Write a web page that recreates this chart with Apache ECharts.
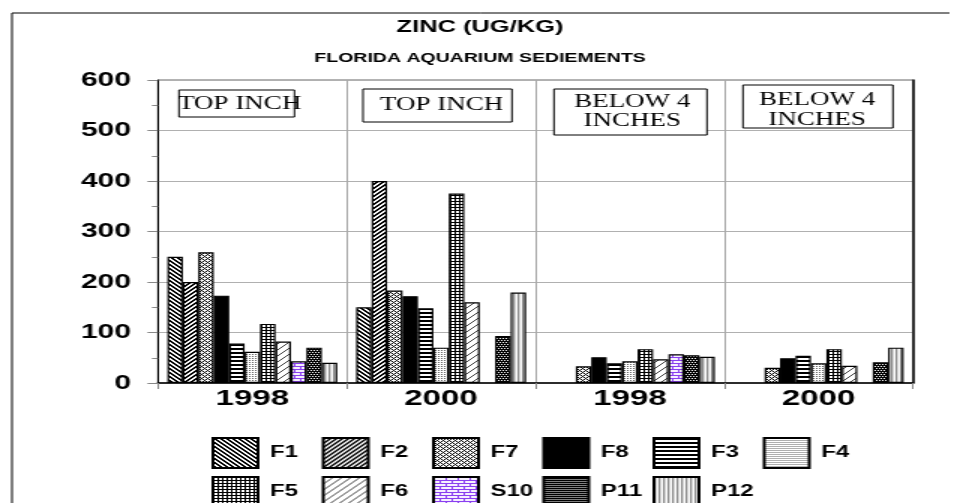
<!DOCTYPE html>
<html>
<head>
<meta charset="utf-8">
<title>Zinc - Florida Aquarium Sediments</title>
<script src="https://cdn.jsdelivr.net/npm/echarts@6/dist/echarts.min.js"></script>
<style>
html, body { margin: 0; padding: 0; background: #fff; overflow: hidden; }
/* the original picture is stretched sideways, so the chart is drawn narrow and widened */
#main { width: 640px; height: 503px; transform: scaleX(1.5); transform-origin: 0 0; }
</style>
</head>
<body>
<div id="main"></div>
<script>
// data
const categories = ['1998', '2000', '1998', '2000'];
const seriesNames = ['F1', 'F2', 'F7', 'F8', 'F3', 'F4', 'F5', 'F6', 'S10', 'P11', 'P12'];
const f1  = [250, 150, null, null];
const f2  = [200, 400, null, null];
const f7  = [259, 183, 33, 30];
const f8  = [173, 172, 51, 49];
const f3  = [78, 148, 39, 54];
const f4  = [62, 70, 43, 39];
const f5  = [117, 375, 67, 67];
const f6  = [82, 160, 47, 34];
const s10 = [43, null, 57, null];
const p11 = [70, 93, 55, 41];
const p12 = [40, 179, 52, 70];
const seriesValues = [f1, f2, f7, f8, f3, f4, f5, f6, s10, p11, p12];
const yTicks = { min: 0, max: 600, step: 100 };
const boxLabels = ['TOP INCH', 'TOP INCH', 'BELOW 4\nINCHES', 'BELOW 4\nINCHES'];

const SANS = 'Liberation Sans';
const SERIF = 'Liberation Serif';

// small bitmap fills, one per series
const hex = c => [parseInt(c.substr(1, 2), 16), parseInt(c.substr(3, 2), 16), parseInt(c.substr(5, 2), 16)];
function pattern(w, h, fn) {
    const c = document.createElement('canvas');
    c.width = w; c.height = h;
    const ctx = c.getContext('2d');
    const img = ctx.createImageData(w, h);
    for (let y = 0; y < h; y++) {
        for (let x = 0; x < w; x++) {
            const rgb = hex(fn(x, y));
            const k = (y * w + x) * 4;
            img.data[k] = rgb[0]; img.data[k + 1] = rgb[1]; img.data[k + 2] = rgb[2]; img.data[k + 3] = 255;
        }
    }
    ctx.putImageData(img, 0, 0);
    return { image: c, repeat: 'repeat' };
}
const B = '#000000', W = '#ffffff';
const fills = {
    F1: pattern(4, 4, (x, y) => ((x - y + 8) % 4 < 2 ? B : W)),
    F2: pattern(4, 4, (x, y) => ((x + y) % 4 < 2 ? B : W)),
    F7: pattern(4, 4, (x, y) => ((x + y) % 4 === 0 || (x - y + 8) % 4 === 0 ? B : W)),
    F8: '#000',
    F3: pattern(1, 4, (x, y) => (y % 4 < 2 ? B : W)),
    F4: pattern(2, 2, (x, y) => (x === 0 && y === 0 ? '#606060' : W)),
    F5: pattern(3, 3, (x, y) => (x === 0 || y === 0 ? B : W)),
    F6: pattern(6, 6, (x, y) => ((x + y) % 6 === 0 ? '#404040' : W)),
    S10: pattern(8, 6, (x, y) => (y % 3 === 0 || x === (Math.floor(y / 3) % 2 ? 4 : 0) ? '#8a3ff0' : '#f6f0ff')),
    P11: pattern(2, 4, (x, y) => ((x === 0 && y === 0) || (x === 1 && y === 2) ? W : B)),
    P12: pattern(3, 1, (x, y) => (x === 0 ? '#8c8c8c' : (x === 1 ? '#d4d4d4' : W)))
};

const series = seriesNames.map((name, i) => ({
    name: name,
    type: 'bar',
    data: seriesValues[i],
    barGap: '0%',
    barCategoryGap: '10%',
    itemStyle: { color: fills[name], borderColor: '#000', borderWidth: 1.2 }
}));

// legend: two rows laid out on a fixed grid
const legendCols = [141, 214.5, 288, 361.5, 435, 508.5];
const legendRows = [437, 476];
const legend = seriesNames.map((name, i) => ({
    data: [name],
    left: legendCols[i % 6],
    top: legendRows[Math.floor(i / 6)],
    padding: 0,
    itemWidth: 30,
    itemHeight: 30,
    icon: 'rect',
    selectedMode: false,
    textStyle: { fontFamily: SANS, fontWeight: 'bold', fontSize: 16, color: '#000', padding: [0, 0, 0, 3] }
}));

// boxed notes over each group
const boxes = [
    { x: 119.3, y: 90, w: 77, h: 27, tx: 118.7, ty: 104, align: 'left', lh: 19 },
    { x: 242, y: 89, w: 99.3, h: 33, tx: 253.3, ty: 105.5, align: 'left', lh: 19 },
    { x: 369.3, y: 89, w: 102, h: 46, tx: 421.5, ty: 112, align: 'center', lh: 19 },
    { x: 495.3, y: 85, w: 100, h: 43, tx: 544.7, ty: 110, align: 'center', lh: 20 }
];
const graphic = [{
    type: 'polyline',
    shape: { points: [[8, 503], [8, 13], [633, 13]] },
    style: { stroke: '#000', lineWidth: 1, fill: null },
    z: 0
}];
boxes.forEach((b, i) => {
    graphic.push({
        type: 'rect',
        shape: { x: b.x, y: b.y, width: b.w, height: b.h },
        style: { fill: '#fff', stroke: '#000', lineWidth: 1 },
        z: 10
    });
    graphic.push({
        type: 'text',
        x: b.tx, y: b.ty,
        style: {
            text: boxLabels[i], fontFamily: SERIF, fontSize: 18, fill: '#000',
            align: b.align, verticalAlign: 'middle', lineHeight: b.lh
        },
        z: 11
    });
});

const chart = echarts.init(document.getElementById('main'), null, { renderer: 'canvas' });
chart.setOption({
    animation: false,
    backgroundColor: '#fff',
    title: [
        { text: 'ZINC (UG/KG)', left: 'center', top: 14,
          textStyle: { fontFamily: SANS, fontWeight: 'bold', fontSize: 17, color: '#000' } },
        { text: 'FLORIDA AQUARIUM SEDIEMENTS', left: 'center', top: 47,
          textStyle: { fontFamily: SANS, fontWeight: 'bold', fontSize: 13, color: '#000' } }
    ],
    legend: legend,
    grid: { left: 105.3, right: 31.3, top: 80, bottom: 120, show: true, borderColor: '#666', borderWidth: 1 },
    xAxis: {
        type: 'category',
        data: categories,
        axisLine: { lineStyle: { color: '#000', width: 1.5 } },
        axisTick: { show: true, length: 6, lineStyle: { color: '#888' } },
        axisLabel: { fontFamily: SANS, fontWeight: 'bold', fontSize: 22, color: '#000', margin: 5 },
        splitLine: { show: true, lineStyle: { color: '#a8a8a8' } }
    },
    yAxis: [{
        type: 'value',
        min: yTicks.min, max: yTicks.max, interval: yTicks.step,
        axisLine: { show: true, lineStyle: { color: '#000', width: 1 } },
        axisTick: { show: true, length: 7, lineStyle: { color: '#888' } },
        minorTick: { show: true, splitNumber: 2, length: 4, lineStyle: { color: '#888' } },
        axisLabel: { fontFamily: SANS, fontWeight: 'bold', fontSize: 20, color: '#000', margin: 18 },
        splitLine: { lineStyle: { color: '#b0b0b0' } }
    }, {
        type: 'value',
        position: 'right',
        min: yTicks.min, max: yTicks.max, interval: yTicks.step,
        axisLine: { show: true, lineStyle: { color: '#000', width: 1.5 } },
        axisTick: { show: false },
        axisLabel: { show: false },
        splitLine: { show: false }
    }],
    series: series,
    graphic: graphic
});
</script>
</body>
</html>
